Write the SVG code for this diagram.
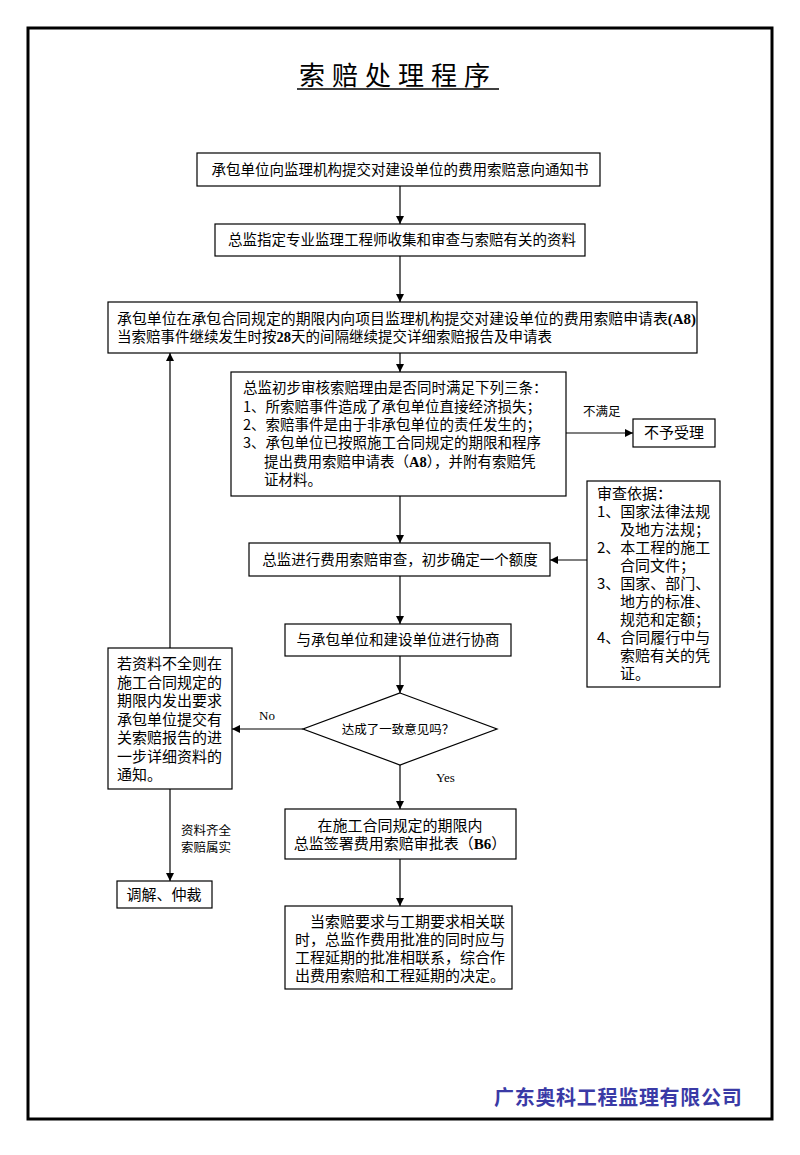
<svg xmlns="http://www.w3.org/2000/svg" width="800" height="1155" viewBox="0 0 800 1155">
<style>
.b{fill:#fff;stroke:#000;stroke-width:1.2}
.t{font-family:"Noto Sans CJK SC","Liberation Sans",sans-serif;font-size:14.5px;fill:#000}
.s{font-family:"Noto Sans CJK SC","Liberation Sans",sans-serif;font-size:15px;fill:#000}
.l{font-family:"Noto Sans CJK SC","Liberation Sans",sans-serif;font-size:12.5px;fill:#000}
.e{font-family:"Liberation Serif",serif;font-size:13px;fill:#000}
.r{font-family:"Liberation Serif",serif;font-weight:bold}
.c line{stroke:#000;stroke-width:1.2;fill:none;marker-end:url(#ah)}
</style>
<defs>
<marker id="ah" viewBox="0 0 10 10" refX="10" refY="5" markerWidth="8" markerHeight="8" markerUnits="userSpaceOnUse" orient="auto">
<path d="M0,0 L10,5 L0,10 z" fill="#000"/>
</marker>
</defs>
<rect x="0" y="0" width="800" height="1155" fill="#fff"/>
<rect x="28" y="28" width="744" height="1091" fill="none" stroke="#000" stroke-width="3"/>
<g id="title">
<text x="398" y="85" text-anchor="middle" font-family="Noto Sans CJK SC,sans-serif" font-size="26" letter-spacing="7">索赔处理程序</text>
<line x1="297" y1="89" x2="499" y2="89" stroke="#000" stroke-width="1.5"/>
</g>
<g class="c" id="connectors">
<line x1="400" y1="186" x2="400" y2="224"/>
<line x1="400" y1="256" x2="400" y2="302"/>
<line x1="400" y1="353" x2="400" y2="372"/>
<line x1="566" y1="433" x2="633" y2="433"/>
<line x1="400" y1="496" x2="400" y2="543"/>
<line x1="587" y1="560" x2="550" y2="560"/>
<line x1="400" y1="576" x2="400" y2="624"/>
<line x1="400" y1="656" x2="400" y2="693"/>
<line x1="303" y1="729" x2="232" y2="729"/>
<line x1="170" y1="648" x2="170" y2="353"/>
<line x1="170" y1="789" x2="170" y2="881"/>
<line x1="400" y1="765" x2="400" y2="809"/>
<line x1="400" y1="859" x2="400" y2="906"/>
</g>
<g id="labels">
<text class="l" x="583" y="416">不满足</text>
<text class="e" x="259" y="720">No</text>
<text class="e" x="436" y="782">Yes</text>
<text class="l"><tspan x="181" y="835">资料齐全</tspan><tspan x="181" y="852">索赔属实</tspan></text>
</g>
<g id="n1"><rect class="b" x="197" y="153" width="403" height="33"/>
<text class="t" x="400" y="175" text-anchor="middle">承包单位向监理机构提交对建设单位的费用索赔意向通知书</text></g>
<g id="n2"><rect class="b" x="215" y="224" width="370" height="32"/>
<text class="t" x="402" y="245" text-anchor="middle">总监指定专业监理工程师收集和审查与索赔有关的资料</text></g>
<g id="n3"><rect class="b" x="108" y="302" width="589" height="51"/>
<text class="t"><tspan x="117" y="324" textLength="579" lengthAdjust="spacingAndGlyphs">承包单位在承包合同规定的期限内向项目监理机构提交对建设单位的费用索赔申请表<tspan class="r">(A8)</tspan></tspan><tspan x="117" y="342">当索赔事件继续发生时按<tspan class="r">28</tspan>天的间隔继续提交详细索赔报告及申请表</tspan></text></g>
<g id="n4"><rect class="b" x="231" y="372" width="335" height="124"/>
<text class="t"><tspan x="243" y="393">总监初步审核索赔理由是否同时满足下列三条：</tspan><tspan x="243" y="412">1、所索赔事件造成了承包单位直接经济损失；</tspan><tspan x="243" y="430">2、索赔事件是由于非承包单位的责任发生的；</tspan><tspan x="243" y="448">3、承包单位已按照施工合同规定的期限和程序</tspan><tspan x="264" y="467">提出费用索赔申请表（<tspan class="r">A8</tspan>），并附有索赔凭</tspan><tspan x="264" y="485">证材料。</tspan></text></g>
<g id="n5"><rect class="b" x="633" y="419" width="82" height="28"/>
<text class="s" x="674" y="438" text-anchor="middle">不予受理</text></g>
<g id="n6"><rect class="b" x="249" y="543" width="301" height="33"/>
<text class="t" x="400" y="565" text-anchor="middle">总监进行费用索赔审查，初步确定一个额度</text></g>
<g id="n7"><rect class="b" x="587" y="481" width="133" height="206"/>
<text class="s"><tspan x="597" y="499">审查依据：</tspan><tspan x="597" y="517">1、国家法律法规</tspan><tspan x="620" y="535">及地方法规；</tspan><tspan x="597" y="553">2、本工程的施工</tspan><tspan x="620" y="571">合同文件；</tspan><tspan x="597" y="589">3、国家、部门、</tspan><tspan x="620" y="607">地方的标准、</tspan><tspan x="620" y="625">规范和定额；</tspan><tspan x="597" y="643">4、合同履行中与</tspan><tspan x="620" y="661">索赔有关的凭</tspan><tspan x="620" y="679">证。</tspan></text></g>
<g id="n8"><rect class="b" x="285" y="624" width="226" height="32"/>
<text class="t" x="398" y="645" text-anchor="middle">与承包单位和建设单位进行协商</text></g>
<g id="n9"><polygon class="b" points="400,693 497,729 400,765 303,729"/>
<text class="l" x="398" y="734" text-anchor="middle">达成了一致意见吗？</text></g>
<g id="n10"><rect class="b" x="108" y="648" width="124" height="141"/>
<text class="s"><tspan x="117" y="669">若资料不全则在</tspan><tspan x="117" y="688">施工合同规定的</tspan><tspan x="117" y="706">期限内发出要求</tspan><tspan x="117" y="725">承包单位提交有</tspan><tspan x="117" y="743">关索赔报告的进</tspan><tspan x="117" y="762">一步详细资料的</tspan><tspan x="117" y="780">通知。</tspan></text></g>
<g id="n11"><rect class="b" x="117" y="881" width="95" height="27"/>
<text class="s" x="164" y="900" text-anchor="middle">调解、仲裁</text></g>
<g id="n12"><rect class="b" x="285" y="809" width="231" height="50"/>
<text class="s" text-anchor="middle"><tspan x="400" y="831">在施工合同规定的期限内</tspan><tspan x="400" y="849">总监签署费用索赔审批表（<tspan class="r">B6</tspan>）</tspan></text></g>
<g id="n13"><rect class="b" x="285" y="906" width="227" height="83"/>
<text class="s"><tspan x="310" y="927">当索赔要求与工期要求相关联</tspan><tspan x="295" y="945">时，总监作费用批准的同时应与</tspan><tspan x="295" y="963">工程延期的批准相联系，综合作</tspan><tspan x="295" y="981">出费用索赔和工程延期的决定。</tspan></text></g>
<g id="footer">
<text x="494" y="1105" font-family="Noto Sans CJK SC,sans-serif" font-size="20" font-weight="bold" letter-spacing="0.7" fill="#3a3aa6">广东奥科工程监理有限公司</text>
</g>
</svg>
